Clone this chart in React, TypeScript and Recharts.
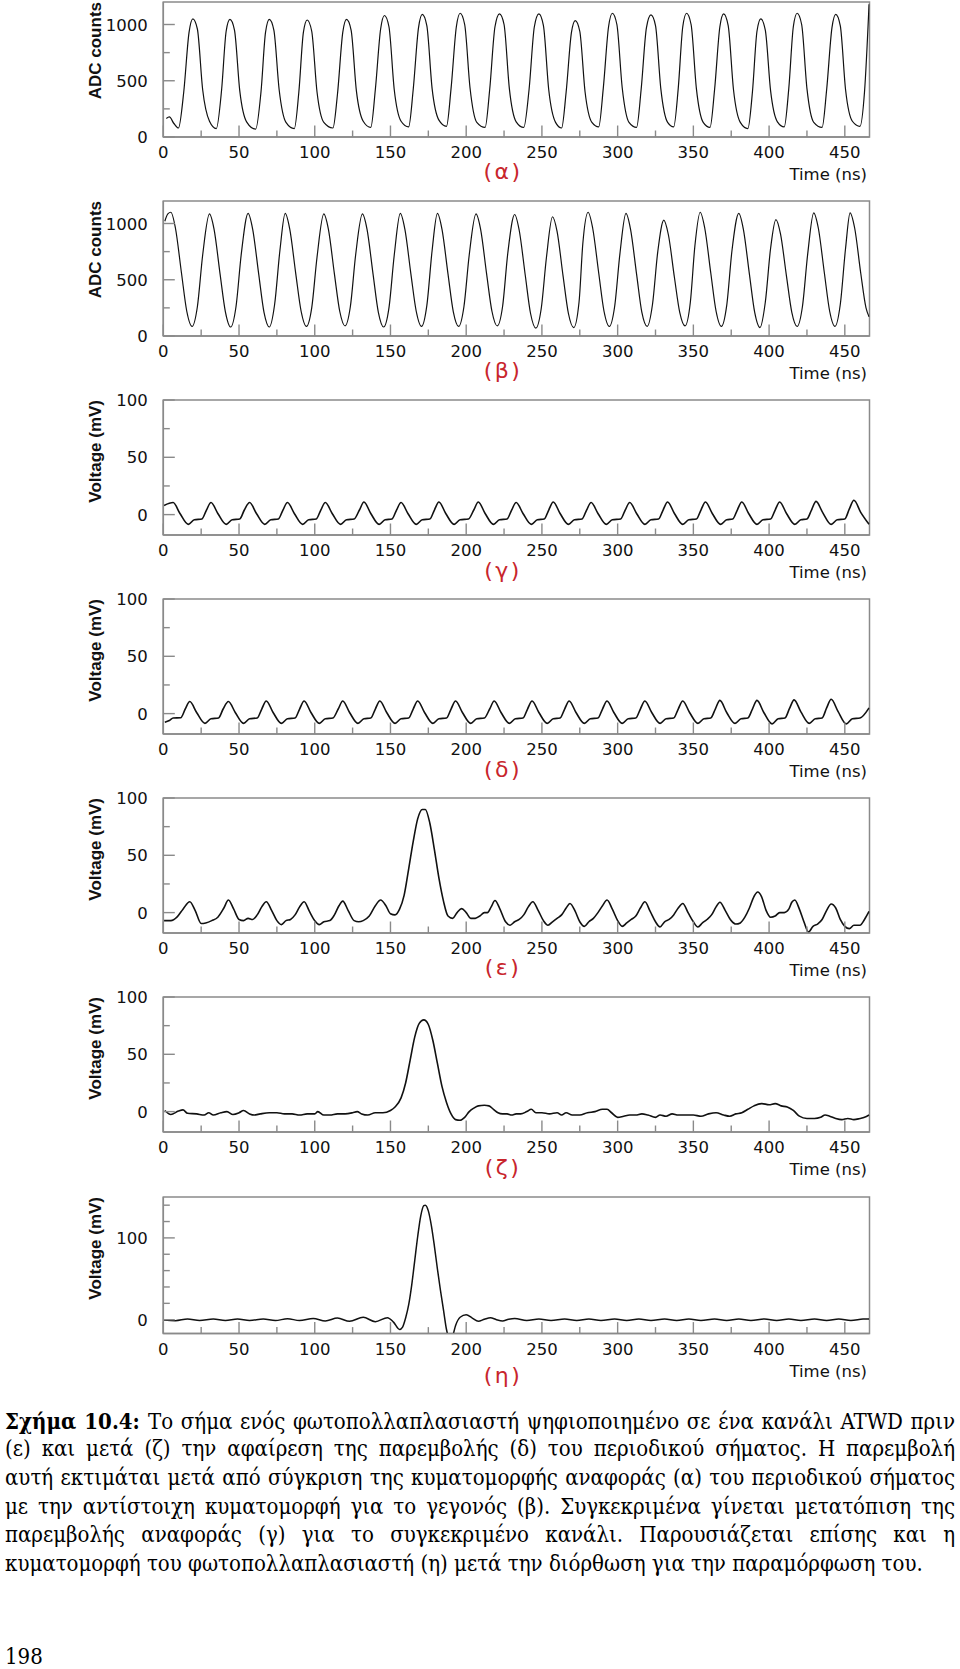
import React from 'react';
import { LineChart, Line, XAxis, YAxis, ReferenceArea } from 'recharts';

// readings, [time ns, value]
const adcReference: [number, number][] = [
  [2, 165], [4, 178], [7, 120], [10, 80], [13.5, 400], [17, 930], [19.5, 1050], [22.5, 960], [26, 420], [30.5, 140],
  [35, 75], [38.5, 420], [41.5, 940], [44, 1045], [47, 950], [50.5, 410], [55, 135],
  [61, 70], [64.5, 400], [67.5, 930], [70, 1045], [73, 950], [76.5, 420], [81, 130],
  [86.5, 75], [89.5, 400], [92.5, 930], [95, 1040], [98, 940], [101.5, 400], [106, 130],
  [112, 80], [115, 380], [118.5, 930], [121, 1045], [124, 950], [127.5, 410], [132, 140],
  [137, 85], [140, 420], [143.5, 960], [146, 1080], [149, 980], [152.5, 420], [157, 140],
  [162, 90], [165, 420], [168.5, 970], [171, 1090], [174, 990], [177.5, 430], [182, 150],
  [187, 95], [190, 430], [193.5, 980], [196, 1100], [199, 1000], [202.5, 440], [207, 130],
  [212.5, 85], [215.5, 420], [219, 980], [222, 1095], [225, 1000], [228.5, 430], [233, 135],
  [238, 85], [241.5, 420], [245, 980], [248, 1095], [251, 990], [254.5, 420], [259, 130],
  [263, 80], [266, 400], [269.5, 930], [272, 1035], [275, 940], [278.5, 400], [283, 130],
  [287.5, 90], [290.5, 430], [294, 980], [296.5, 1100], [299.5, 1000], [303, 440], [307.5, 130],
  [312.5, 85], [315.5, 420], [319, 970], [322, 1085], [325, 990], [328.5, 430], [333, 130],
  [337, 90], [340, 430], [343, 980], [345.5, 1100], [348.5, 1000], [352, 430], [356.5, 130],
  [361, 85], [364, 420], [367.5, 980], [370, 1095], [373, 990], [376.5, 420], [381, 130],
  [386, 75], [389, 400], [392, 940], [394.5, 1050], [397.5, 950], [401, 410], [405.5, 135],
  [410, 90], [413, 430], [416, 980], [418.5, 1100], [421.5, 1000], [425, 430], [429.5, 130],
  [435, 85], [438, 420], [441.5, 970], [444, 1090], [447, 990], [450.5, 420], [455, 140],
  [460, 95], [463, 400], [466, 1180],
];

const adcEvent: [number, number][] = [
  [1, 1020], [3, 1085],
  [5, 1100], [8, 960], [12, 560], [15.5, 220], [19, 85], [22.5, 260], [26, 720],
  [30.5, 1085], [33.5, 950], [37.5, 550], [41, 215], [44.5, 80], [48, 260], [51.5, 730],
  [56, 1090], [59, 950], [63, 550], [66.5, 210], [70, 80], [73.5, 280], [77, 760],
  [80.5, 1090], [83.5, 950], [87.5, 550], [91, 220], [94.5, 85], [98, 250], [101.5, 700],
  [106, 1085], [109, 950], [113, 550], [116.5, 220], [120, 90], [123.5, 260], [127, 720],
  [131.5, 1085], [134.5, 950], [138.5, 550], [142, 210], [145.5, 80], [149, 250], [152.5, 720],
  [156.5, 1090], [159.5, 950], [163.5, 550], [167, 220], [170.5, 85], [174, 270], [177.5, 760],
  [181, 1090], [184, 950], [188, 550], [191.5, 215], [195, 85], [198.5, 260], [202, 720],
  [206.5, 1085], [209.5, 950], [213.5, 550], [217, 220], [220.5, 90], [224, 260], [227.5, 740],
  [232, 1080], [235, 940], [239, 540], [242.5, 200], [246, 70], [249.5, 240], [253, 700],
  [257, 1060], [260, 930], [264, 530], [267.5, 200], [271, 75], [274.5, 300], [277, 820],
  [280.5, 1100], [283.5, 960], [287.5, 560], [291, 220], [294.5, 85], [298, 260], [301.5, 730],
  [305.5, 1090], [308.5, 950], [312.5, 550], [316, 210], [319.5, 85], [323, 280], [326.5, 750],
  [330.5, 1030], [333.5, 900], [337.5, 520], [341, 210], [344.5, 90], [348, 300], [351, 800],
  [354.5, 1100], [357.5, 960], [361.5, 560], [365, 220], [368.5, 85], [372, 270], [375.5, 760],
  [380, 1090], [383, 950], [387, 550], [390.5, 210], [394, 75], [397.5, 300], [401, 780],
  [404.5, 1035], [407.5, 910], [411.5, 530], [415, 210], [418.5, 85], [422, 260], [425.5, 730],
  [429.5, 1095], [432.5, 960], [436.5, 560], [440, 220], [443.5, 85], [447, 280], [450.5, 780],
  [453.5, 1095], [456.5, 960], [460.5, 560], [464, 250], [466, 170],
];

const pickupReference: [number, number][] = [
  [0.5, 8], [6.5, 10.5], [11, 1], [16.5, -8.5], [20.5, -4.5], [25.5, -3.8], [28.5, 4],
  [31.5, 10.5], [36, 1], [41.5, -8.5], [45.5, -4.5], [50.5, -3.8], [53.5, 4],
  [57, 10.5], [61.5, 1], [67, -8.5], [71, -4.5], [76, -3.8], [79, 4],
  [82, 10.5], [86.5, 1], [92, -8.5], [96, -4.5], [101, -3.8], [104, 4],
  [107, 10.5], [111.5, 1], [117, -8.5], [121, -4.5], [126, -3.8], [129.5, 4],
  [132.5, 11], [137, 1], [142.5, -8.5], [146.5, -4.5], [151, -3.8], [154, 4],
  [157, 10.5], [161.5, 1], [167, -8.5], [171, -4.5], [176, -3.8], [179, 4],
  [182, 11], [186.5, 1], [192, -8.5], [196, -4.5], [201.5, -3.8], [205, 4],
  [208, 11], [212.5, 1], [218, -8.5], [222, -4.5], [227, -3.8], [230, 4],
  [233, 10.5], [237.5, 1], [243, -8.5], [247, -4.5], [251.5, -3.8], [254.5, 4],
  [257.5, 11], [262, 1], [267.5, -8.5], [271.5, -4.5], [276.5, -3.8], [279.5, 4],
  [282.5, 10.5], [287, 1], [292.5, -8.5], [296.5, -4.5], [302, -3.8], [305, 4],
  [308, 10.5], [312.5, 1], [318, -8.5], [322, -4.5], [327, -3.8], [330, 4],
  [333, 11], [337.5, 1], [343, -8.5], [347, -4.5], [352, -3.8], [355, 4],
  [358, 11], [362.5, 1], [368, -8.5], [372, -4.5], [376, -3.8], [379, 4],
  [382, 11], [386.5, 1], [392, -8.5], [396, -4.5], [401, -3.8], [404, 4],
  [407, 11], [411.5, 1], [417, -8.5], [421, -4.5], [425, -3.8], [428, 4],
  [431, 11.5], [435.5, 1.5], [441, -8.5], [445, -4.5], [450, -3.8], [453, 5],
  [456, 12.5], [460.5, 2], [466, -8.5],
];

const pickupShifted: [number, number][] = [
  [1, -7.5], [4, -6], [6.5, -3.8], [11.5, -3.6], [14.5, 4],
  [17.5, 10.5], [22, 1], [27.5, -8.5], [31.5, -4.5], [36.5, -3.8], [39.5, 4],
  [43, 10.5], [47.5, 1], [53, -8.5], [57, -4.5], [62, -3.8], [65, 4],
  [68, 11], [72.5, 1], [78, -8.5], [82, -4.5], [87, -3.8], [90, 4],
  [93, 11], [97.5, 1], [103, -8.5], [107, -4.5], [112, -3.8], [115.5, 4],
  [118.5, 11], [123, 1], [128.5, -8.5], [132.5, -4.5], [137, -3.8], [140, 4],
  [143, 11], [147.5, 1], [153, -8.5], [157, -4.5], [162, -3.8], [165, 4],
  [168, 11], [172.5, 1], [178, -8.5], [182, -4.5], [187, -3.8], [190, 4],
  [193, 11], [197.5, 1], [203, -8.5], [207, -4.5], [212, -3.8], [215.5, 4],
  [218.5, 11], [223, 1], [228.5, -8.5], [232.5, -4.5], [237.5, -3.8], [240.5, 4],
  [243.5, 11], [248, 1], [253.5, -8.5], [257.5, -4.5], [262, -3.8], [265, 4],
  [268, 11], [272.5, 1], [278, -8.5], [282, -4.5], [287, -3.8], [290, 4],
  [293, 11], [297.5, 1], [303, -8.5], [307, -4.5], [312, -3.8], [315, 4],
  [318, 11], [322.5, 1], [328, -8.5], [332, -4.5], [337, -3.8], [340, 4],
  [343, 11], [347.5, 1], [353, -8.5], [357, -4.5], [361.5, -3.8], [364.5, 4],
  [367.5, 11.5], [372, 1], [377.5, -8.5], [381.5, -4.5], [386, -3.8], [389, 4],
  [392, 11.5], [396.5, 1], [402, -9], [406, -4.5], [410.5, -3.8], [413.5, 4.5],
  [416.5, 12], [421, 1.5], [426.5, -8.5], [430.5, -4.5], [435, -3.8], [438, 5],
  [441, 12.5], [445.5, 2], [451, -9], [455, -4.5], [460, -3.8], [466, 5],
];

const rawPmt: [number, number][] = [
  [0.5, -7], [5, -7], [9, -4], [13, 3], [17.5, 9.5], [21, 2], [25, -9.5], [28, -9], [32, -7], [36, -4],
  [40, 4], [43, 11], [46.5, 3], [50, -6], [53, -7], [56, -5], [59, -6], [62, -2], [65, 5], [68, 9.5],
  [71.5, 2], [75, -7], [78, -10.5], [81, -7], [84, -6], [87, -2], [90, 5], [93, 9.5], [96.5, 1], [100, -7],
  [103, -10.5], [106, -8], [110, -7], [113, -2], [116, 6], [118.5, 10], [122, 2], [126, -7], [129, -8], [132, -7],
  [136, -3], [140, 6], [143.5, 11], [147, 6], [150, -1], [153, -2], [156, 3], [159, 15], [162, 38], [165, 62],
  [168, 82], [171, 90], [173, 90], [176, 78], [179, 55], [182, 30], [185, 10], [188, -3], [191, -5], [194, 0],
  [197, 3.5], [200, 0], [203, -5], [206, -5], [209, -3], [212, 0], [214, 0], [216.5, 5], [219, 10.5], [222, 4],
  [226, -8], [229, -11], [232, -8], [235, -6], [238, -2], [241, 5], [244, 9.5], [247.5, 2], [251, -7], [254, -11],
  [257, -8], [260, -5], [263, -2], [266, 4], [268.5, 8], [272, 1], [275, -8], [278, -12], [281, -8], [284, -5],
  [287, 0], [290, 6], [293, 11], [296.5, 3], [300, -7], [303, -12], [306, -9], [309, -6], [312, -3], [315, 4],
  [318, 9.5], [321.5, 1], [325, -8], [328, -12.5], [331, -8], [334, -6], [337, -2], [340, 4], [343, 8], [346.5, 0],
  [350, -8], [353, -12.5], [356, -9], [359, -6], [362, -2], [365, 5], [367.5, 9], [371, 2], [375, -7], [378, -10],
  [381, -9], [384, -4], [387, 4], [390, 14], [392.5, 18], [395, 14], [398, 2], [401, -4], [404, -3], [407, 0],
  [410, 0], [413, 3], [415, 9], [417, 11], [420, 3], [423, -8], [426, -17], [429, -12], [432, -10], [435, -6],
  [438, 2], [441, 7.5], [444, 4], [447, -6], [450, -12], [453, -14], [456, -11], [460, -11], [463, -6], [466, 1],
];

const cleanedPmt: [number, number][] = [
  [1, 1], [5, -2.5], [10, 0.5], [13, 1.5], [16, -1.5], [22, -2], [27, -3], [30, -1], [33, -3], [38, -1],
  [42, 0], [46, -2.5], [50, -1], [53, 1], [57, -2], [60, -3], [64, -2], [70, -1], [75, -1], [80, -2],
  [85, -2], [90, -3], [95, -2], [100, -2], [102, 0], [106, -3], [110, -3], [115, -2], [120, -2], [125, -1],
  [128, 0], [131, -2], [135, -3], [140, -1], [145, -1], [150, 1], [153, 4], [157, 12], [160, 25], [163, 45],
  [166, 65], [169, 77], [172, 80], [175, 76], [178, 62], [181, 42], [184, 22], [187, 8], [190, -2], [193, -7],
  [196, -7.5], [199, -5], [202, 0], [205, 3], [208, 5], [212, 5.5], [215, 5], [218, 2], [221, -1], [224, -2],
  [227, -2], [230, -3], [233, -2], [236, -2], [240, 0], [243, 2], [246, -1], [250, -1], [255, -2], [260, -1],
  [263, -3], [266, -1], [270, -3], [275, -3], [280, -1], [285, 0], [290, 2], [293, 2], [296, -1], [300, -5],
  [304, -4], [308, -3], [312, -3], [316, -2], [320, -3], [325, -5], [328, -3], [332, -4], [336, -2], [340, -3],
  [345, -3], [350, -3], [355, -4], [360, -2], [365, -1], [370, -3], [374, -4], [378, -2], [382, -1], [386, 2],
  [390, 5], [395, 7], [400, 6], [404, 7], [408, 5], [412, 4], [416, 1], [420, -4], [425, -6], [430, -6],
  [434, -5], [437, -3], [440, -4], [444, -6], [448, -7], [452, -6], [456, -7], [460, -6], [463, -5], [466, -3],
];

const deconvolved: [number, number][] = [
  [0, -0.5], [8, -1.2], [16, 0.8], [24, -1], [33, 1], [41, -1], [49, 1], [57, -1], [66, 1], [74, -1],
  [82, 1.2], [90, -1], [99, 1.5], [107, -1.5], [115, 2], [123, -2], [132, 3], [140, -2.5], [148, 2.5], [152, -3],
  [156, -12], [158, -9], [160, 2], [162, 18], [164, 42], [166, 72], [168, 102], [170, 127], [172, 139.5], [173, 140],
  [175, 133], [177, 115], [179, 90], [181, 62], [183, 36], [185, 12], [187, -12], [189, -24], [191, -20], [193, -7],
  [196, 3], [200, 6], [204, 2], [208, -2], [212, 0.5], [216, 2.5], [220, 0], [224, -1.5], [228, 0.5], [232, 1.5],
  [240, -1], [248, 1], [256, -1], [265, 1], [273, -1], [281, 1], [289, -1], [298, 1], [306, -1], [314, 1],
  [322, -1], [331, 1], [339, -1], [347, 1], [355, -1], [364, 1], [372, -1], [380, 1], [388, -1], [397, 1],
  [405, -1], [413, 1], [421, -1], [430, 1], [438, -1], [446, 1], [454, -1], [462, 0.8], [466, 1],
];

const timeTicks = [0, 25, 50, 75, 100, 125, 150, 175, 200, 225, 250, 275, 300, 325, 350, 375, 400, 425, 450];
const adcTicks = [0, 250, 500, 750, 1000];
const adcLabels = [0, 500, 1000];
const mvTicks = [0, 25, 50, 75, 100];
const mvLabels = [0, 50, 100];
const mvTicksWide = [0, 20, 40, 60, 80, 100, 120, 140];
const mvLabelsWide = [0, 100];

const captionLines = [
  'Το σήμα ενός φωτοπολλαπλασιαστή ψηφιοποιημένο σε ένα κανάλι ATWD πριν',
  '(ε) και μετά (ζ) την αφαίρεση της παρεμβολής (δ) του περιοδικού σήματος. Η παρεμβολή',
  'αυτή εκτιμάται μετά από σύγκριση της κυματομορφής αναφοράς (α) του περιοδικού σήματος',
  'με την αντίστοιχη κυματομορφή για το γεγονός (β). Συγκεκριμένα γίνεται μετατόπιση της',
  'παρεμβολής αναφοράς (γ) για το συγκεκριμένο κανάλι. Παρουσιάζεται επίσης και η',
  'κυματομορφή του φωτοπολλαπλασιαστή (η) μετά την διόρθωση για την παραμόρφωση του.',
];

const X_MAX = 466.3;
const AXIS = '#8a8a8a';
const SANS = '"Liberation Sans", Arial, sans-serif';
const ROUND = '"DejaVu Sans", sans-serif';
const SERIF = '"DejaVu Serif Condensed", "DejaVu Serif", serif';
const PLOT_LEFT = 163.3;
const Y_W = 60;
const X_H = 40;
const PAD = 12;
const BOX_H = 212;

const panels = [
  { top: 1.7, h: 135, domain: [0, 1200], ticks: adcTicks, labels: adcLabels, title: 'ADC counts', tag: '(α)', pts: adcReference, sw: 1.2, tagDy: 34.5 },
  { top: 200.7, h: 135, domain: [0, 1200], ticks: adcTicks, labels: adcLabels, title: 'ADC counts', tag: '(β)', pts: adcEvent, sw: 1.2, tagDy: 34 },
  { top: 400, h: 135, domain: [-17.8, 100], ticks: mvTicks, labels: mvLabels, title: 'Voltage (mV)', tag: '(γ)', pts: pickupReference, sw: 1.6, tagDy: 35 },
  { top: 599.3, h: 135, domain: [-17.8, 100], ticks: mvTicks, labels: mvLabels, title: 'Voltage (mV)', tag: '(δ)', pts: pickupShifted, sw: 1.6, tagDy: 35 },
  { top: 798.3, h: 135, domain: [-17.8, 100], ticks: mvTicks, labels: mvLabels, title: 'Voltage (mV)', tag: '(ε)', pts: rawPmt, sw: 1.6, tagDy: 34 },
  { top: 997.3, h: 135, domain: [-17.8, 100], ticks: mvTicks, labels: mvLabels, title: 'Voltage (mV)', tag: '(ζ)', pts: cleanedPmt, sw: 1.6, tagDy: 35.5 },
  { top: 1196.7, h: 136.6, domain: [-17, 150], ticks: mvTicksWide, labels: mvLabelsWide, title: 'Voltage (mV)', tag: '(η)', pts: deconvolved, sw: 1.5, tagDy: 42 },
];

const XTick = (props: any) => {
  const { x, y, payload } = props;
  const major = payload.value % 50 === 0;
  return (
    <g>
      <line x1={x} x2={x} y1={y} y2={y - (major ? 11.5 : 6.5)} stroke={AXIS} strokeWidth={1.4} />
      {major && (
        <text x={x} y={y + 21} textAnchor="middle" fontFamily={ROUND} fontSize={16.5} fill="#111">
          {payload.value}
        </text>
      )}
    </g>
  );
};

const makeYTick = (labels: number[]) => (props: any) => {
  const { x, y, payload } = props;
  const major = labels.includes(payload.value);
  return (
    <g key={`yt-${payload.value}`}>
      <line x1={x} x2={x + (major ? 11.5 : 6.5)} y1={y} y2={y} stroke={AXIS} strokeWidth={1.4} />
      {major && (
        <text x={x - 15.5} y={y + 6} textAnchor="end" fontFamily={ROUND} fontSize={16.5} fill="#111">
          {payload.value}
        </text>
      )}
    </g>
  );
};

const Panel = ({ p }: { p: (typeof panels)[number] }) => {
  const data = p.pts.map(([t, v]) => ({ t, v }));
  const axisY = PAD + p.h;
  return (
    <div style={{ position: 'absolute', left: 0, top: p.top - PAD, width: 960, height: BOX_H }}>
      <LineChart
        width={960}
        height={BOX_H}
        data={data}
        margin={{ top: PAD, right: 90.5, bottom: BOX_H - PAD - p.h - X_H, left: PLOT_LEFT - Y_W }}
      >
        <ReferenceArea x1={0} x2={X_MAX} y1={p.domain[0]} y2={p.domain[1]} fill="none" stroke={AXIS} strokeWidth={1.5} />
        <XAxis
          type="number"
          dataKey="t"
          domain={[0, X_MAX]}
          allowDataOverflow
          ticks={timeTicks}
          interval={0}
          height={X_H}
          tickSize={0}
          tickMargin={0}
          tickLine={false}
          axisLine={{ stroke: AXIS, strokeWidth: 1.5 }}
          tick={<XTick />}
        />
        <YAxis
          type="number"
          domain={p.domain}
          allowDataOverflow
          ticks={p.ticks}
          interval={0}
          width={Y_W}
          tickSize={0}
          tickMargin={0}
          tickLine={false}
          axisLine={{ stroke: AXIS, strokeWidth: 1.5 }}
          tick={makeYTick(p.labels)}
        />
        <Line type="monotone" dataKey="v" stroke="#111" strokeWidth={p.sw} dot={false} isAnimationActive={false} />
      </LineChart>
      <svg width={960} height={BOX_H} style={{ position: 'absolute', left: 0, top: 0, pointerEvents: 'none' }}>
        <text transform="rotate(-90)" x={-PAD} y={101} textAnchor="end" fontFamily={SANS} fontWeight="bold" fontSize={17} fill="#111">
          {p.title}
        </text>
        <text x={503} y={axisY + p.tagDy} textAnchor="middle" dominantBaseline="central" fontFamily={ROUND} fontSize={22} letterSpacing={2.5} fill="#c8252c">
          {p.tag}
        </text>
        <text x={867} y={axisY + 37.5} textAnchor="end" dominantBaseline="central" fontFamily={ROUND} fontSize={16.5} fill="#111">
          Time (ns)
        </text>
      </svg>
    </div>
  );
};

const LINE_H = 28.7;

export default function App() {
  return (
    <div style={{ position: 'absolute', left: 0, top: 0, width: 960, height: 1669, background: '#fff', overflow: 'hidden' }}>
      {panels.map((p) => (
        <Panel key={p.tag} p={p} />
      ))}
      {captionLines.map((line, i) => {
        const last = i === captionLines.length - 1;
        return (
          <div
            key={i}
            style={{
              position: 'absolute',
              left: 5,
              top: 1421 - LINE_H / 2 + i * LINE_H,
              width: 950,
              height: LINE_H,
              lineHeight: `${LINE_H}px`,
              fontFamily: SERIF,
              fontStretch: 'condensed',
              fontSize: 22,
              color: '#000',
              textAlign: last ? 'left' : 'justify',
              textAlignLast: last ? 'left' : 'justify',
            }}
          >
            {i === 0 && <b>Σχήμα 10.4: </b>}
            {line}
          </div>
        );
      })}
      <div
        style={{
          position: 'absolute',
          left: 5,
          top: 1657 - LINE_H / 2,
          lineHeight: `${LINE_H}px`,
          fontFamily: SERIF,
          fontStretch: 'condensed',
          fontSize: 22,
        }}
      >
        198
      </div>
    </div>
  );
}
